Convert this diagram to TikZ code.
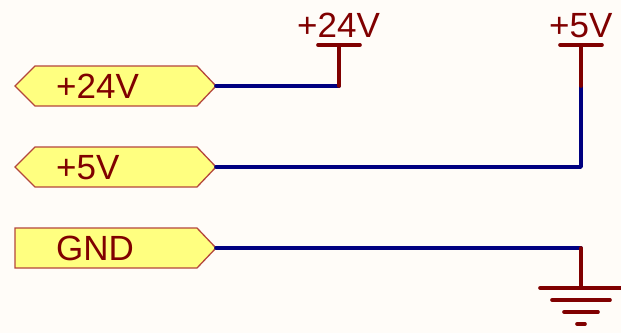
\documentclass[tikz,border=0pt]{standalone}
\usepackage{fontspec}
\setmainfont{Liberation Sans}
\definecolor{bgc}{RGB}{255,252,248}
\definecolor{darkred}{RGB}{128,0,0}
\definecolor{wirec}{RGB}{0,0,128}
\definecolor{portfill}{RGB}{255,255,128}
\definecolor{portline}{RGB}{180,70,60}
\tikzset{
  x=1pt,y=-1pt,
  portshape/.style={draw=portline,fill=portfill,line width=1.3pt,line join=miter},
  lbl/.style={inner sep=0pt,anchor=base west,text=darkred,font=\fontsize{35}{38}\selectfont},
  wire/.style={draw=wirec,line width=3.6pt,line cap=round,line join=round},
  pwr/.style={draw=darkred,line width=3.6pt,line cap=round},
}
\begin{document}
\begin{tikzpicture}
\useasboundingbox[fill=bgc] (0,0) rectangle (621,333);
% ports
\draw[portshape] (15,86) -- (35,66) -- (197,66) -- (216,86) -- (197,106) -- (35,106) -- cycle;
\draw[portshape] (15,167) -- (35,147) -- (197,147) -- (216,167) -- (197,187) -- (35,187) -- cycle;
\draw[portshape] (15,228) -- (197,228) -- (216,248) -- (197,268) -- (15,268) -- cycle;
\coordinate (p24) at (216,86);
\coordinate (p5) at (216,167);
\coordinate (pg) at (216,248);
\node[lbl] (t24) at (56,98) {+24V};
\node[lbl] (t5) at (56,179) {+5V};
\node[lbl] (tg) at (56,260) {GND};
% power symbols
\coordinate (s24) at (339,86);
\coordinate (b24) at (339,45);
\coordinate (s5) at (581,167);
\coordinate (m5) at (581,86);
\coordinate (b5) at (581,45);
\coordinate (sg) at (581,248);
\coordinate (bg) at (581,288);
% wires
\draw[wire] (p24) -- (s24);
\draw[wire] (p5) -- (s5) -- (m5);
\draw[wire] (pg) -- (sg);
% symbols
\draw[pwr] (s24) -- (b24);
\draw[pwr] (318,45) -- (360,45);
\draw[pwr] (m5) -- (b5);
\draw[pwr] (560,45) -- (602,45);
\draw[pwr] (sg) -- (bg);
\draw[pwr] (540,288) -- (621,288);
\draw[pwr] (552,300) -- (610,300);
\draw[pwr] (564,312) -- (598,312);
\draw[pwr] (577,324) -- (585,324);
\node[lbl] (h24) at (297,37) {+24V};
\node[lbl] (h5) at (549,37) {+5V};
\end{tikzpicture}
\end{document}
